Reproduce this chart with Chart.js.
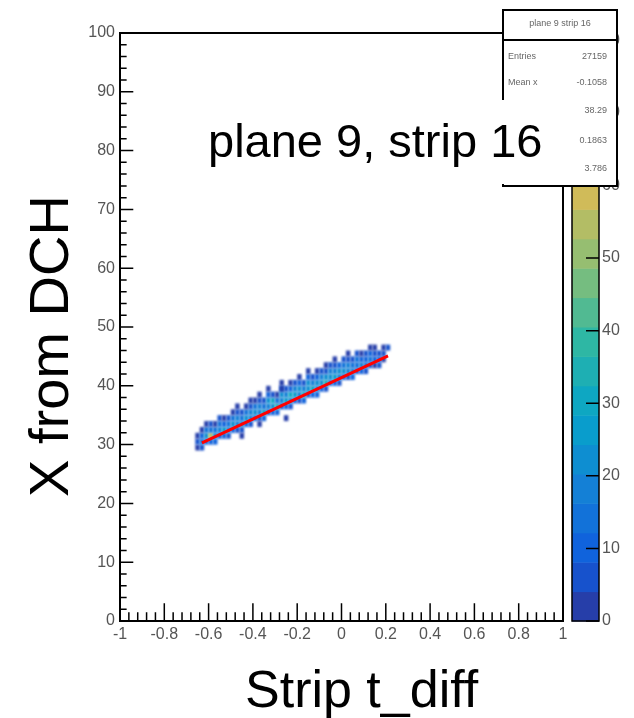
<!DOCTYPE html>
<html>
<head>
<meta charset="utf-8">
<script src="https://cdn.jsdelivr.net/npm/chart.js@4/dist/chart.umd.min.js"></script>
<style>
  html, body { margin: 0; padding: 0; background: #fff; }
  canvas { display: block; }
</style>
</head>
<body>
<canvas id="hist2d" width="634" height="718"></canvas>
<script>
// 2D histogram: X from DCH vs strip t_diff, plane 9 strip 16
const binW = 0.02;   // t_diff bin width
const binH = 1;      // X bin height

// column centres (t_diff)
const binX = [-0.65, -0.63, -0.61, -0.59, -0.57, -0.55, -0.53, -0.51, -0.49, -0.47,
  -0.45, -0.43, -0.41, -0.39, -0.37, -0.35, -0.33, -0.31, -0.29, -0.27,
  -0.25, -0.23, -0.21, -0.19, -0.17, -0.15, -0.13, -0.11, -0.09, -0.07,
  -0.05, -0.03, -0.01, 0.01, 0.03, 0.05, 0.07, 0.09, 0.11, 0.13,
  0.15, 0.17, 0.19];
// lower X edge of the first filled bin in each column
const binYStart = [29, 29, 30, 30, 30, 31, 31, 31, 32, 32,
  32, 33, 33, 34, 34, 34, 35, 35, 35, 36,
  36, 36, 37, 37, 37, 38, 38, 38, 39, 39,
  40, 40, 40, 41, 41, 41, 42, 42, 42, 43,
  43, 43, 44];
// entries per bin, going up in X
const binCounts = [
  [3, 8, 3], [8, 16, 10, 2], [11, 21, 13, 3], [9, 56, 16, 5], [10, 23, 15, 4],
  [7, 19, 16, 5], [11, 25, 12, 3], [5, 18, 15, 6], [9, 21, 14, 4], [8, 17, 19, 7, 2],
  [5, 20, 14, 5], [9, 23, 16, 4], [6, 18, 19, 8, 2], [9, 22, 14, 4], [7, 19, 18, 8, 3],
  [10, 29, 16, 5], [5, 18, 21, 9, 2], [9, 21, 30, 7], [11, 33, 15, 4], [8, 19, 22, 9, 3],
  [10, 25, 18, 6], [6, 17, 29, 11, 2], [10, 26, 19, 5], [7, 20, 22, 10, 3], [10, 31, 18, 6],
  [8, 22, 24, 9, 2], [11, 30, 18, 5], [9, 20, 23, 10, 3], [10, 24, 20, 7], [8, 33, 21, 8, 2],
  [9, 22, 19, 8], [10, 26, 17, 8, 3], [7, 19, 21, 9], [10, 23, 15, 6], [8, 18, 17, 8, 2],
  [9, 20, 13, 5], [7, 16, 16, 7], [9, 17, 12, 4], [5, 13, 12, 6], [8, 15, 9, 3],
  [4, 11, 8, 3], [5, 9, 6], [3, 5, 2]
];
// isolated bins away from the band
const strayX = [-0.45, -0.37, -0.25, -0.27, 0.21];
const strayY = [31.5, 33.5, 34.5, 39.5, 46.5];
const strayN = [3, 2, 2, 3, 5];

// linear fit
const fitX = [-0.63, 0.21];
const fitY = [30.3, 45.1];

// axes
const xTicks = [-1, -0.8, -0.6, -0.4, -0.2, 0, 0.2, 0.4, 0.6, 0.8, 1];
const xTickLabels = ['-1', '-0.8', '-0.6', '-0.4', '-0.2', '0', '0.2', '0.4', '0.6', '0.8', '1'];
const yTicks = [0, 10, 20, 30, 40, 50, 60, 70, 80, 90, 100];
const zTicks = [0, 10, 20, 30, 40, 50, 60, 70, 80];
const zMax = 81;
const nLevels = 20;

// stats box
const statsTitle = 'plane 9 strip 16';
const statsNames = ['Entries', 'Mean x', 'Mean y', 'Std Dev x', 'Std Dev y'];
const statsValues = ['27159', '-0.1058', '38.29', '0.1863', '3.786'];

// kBird palette
const birdStops = [0, 0.125, 0.25, 0.375, 0.5, 0.625, 0.75, 0.875, 1];
const birdR = [0.2082, 0.0592, 0.0780, 0.0232, 0.1802, 0.5301, 0.8186, 0.9956, 0.9764];
const birdG = [0.1664, 0.3599, 0.5041, 0.6419, 0.7178, 0.7492, 0.7328, 0.7862, 0.9832];
const birdB = [0.5293, 0.8684, 0.8385, 0.7914, 0.6425, 0.4662, 0.3499, 0.1968, 0.0539];

function bird(f) {
  f = Math.min(1, Math.max(0, f));
  let k = 0;
  while (k < birdStops.length - 2 && f > birdStops[k + 1]) k++;
  const t = (f - birdStops[k]) / (birdStops[k + 1] - birdStops[k]);
  const c = arr => Math.round(255 * (arr[k] + t * (arr[k + 1] - arr[k])));
  return `rgb(${c(birdR)},${c(birdG)},${c(birdB)})`;
}

function levelColor(v) {
  const lev = Math.min(nLevels - 1, Math.floor(v / zMax * nLevels));
  return bird((lev + 0.99) / nLevels);
}

const FONT = '"Liberation Sans", Arial, Helvetica, sans-serif';

// histogram cells under the fit line
const cellsPlugin = {
  id: 'cells',
  beforeDatasetsDraw(chart) {
    const { ctx, chartArea: a, scales: { x, y } } = chart;
    const cell = (cx, yl, v) => {
      if (v <= 0) return;
      const x0 = x.getPixelForValue(cx - binW / 2), x1 = x.getPixelForValue(cx + binW / 2);
      const y0 = y.getPixelForValue(yl + binH), y1 = y.getPixelForValue(yl);
      ctx.fillStyle = levelColor(v);
      ctx.fillRect(x0, y0, x1 - x0, y1 - y0);
    };
    ctx.save();
    ctx.beginPath();
    ctx.rect(a.left, a.top, a.right - a.left, a.bottom - a.top);
    ctx.clip();
    ctx.filter = 'blur(1.2px)';
    binX.forEach((cx, i) => {
      binCounts[i].forEach((v, j) => cell(cx, binYStart[i] + j * binH, v));
    });
    strayX.forEach((cx, i) => cell(cx, strayY[i] - binH / 2, strayN[i]));
    ctx.restore();
  }
};

// frame, ticks, labels, colour bar, stats box, text label
const decorPlugin = {
  id: 'decor',
  afterDraw(chart) {
    const { ctx, chartArea: a, scales: { x, y, z } } = chart;
    ctx.save();

    // frame
    ctx.strokeStyle = '#000';
    ctx.lineWidth = 2;
    ctx.strokeRect(a.left, a.top, a.right - a.left, a.bottom - a.top);

    // x ticks (inside)
    const xMajLen = 0.03 * (a.bottom - a.top);
    ctx.lineWidth = 1.5;
    ctx.beginPath();
    for (let k = 0; k <= 50; k++) {
      const v = -1 + k * 0.04;
      const px = x.getPixelForValue(v);
      const len = k % 5 === 0 ? xMajLen : xMajLen / 2;
      ctx.moveTo(px, a.bottom);
      ctx.lineTo(px, a.bottom - len);
    }
    // y ticks (inside)
    const yMajLen = 0.03 * (a.right - a.left);
    for (let k = 0; k <= 50; k++) {
      const v = k * 2;
      const py = y.getPixelForValue(v);
      const len = k % 5 === 0 ? yMajLen : yMajLen / 2;
      ctx.moveTo(a.left, py);
      ctx.lineTo(a.left + len, py);
    }
    ctx.stroke();

    // tick labels
    ctx.fillStyle = '#555';
    ctx.font = `16px ${FONT}`;
    ctx.textAlign = 'center';
    ctx.textBaseline = 'top';
    xTicks.forEach((v, i) => ctx.fillText(xTickLabels[i], x.getPixelForValue(v), a.bottom + 6));
    ctx.textAlign = 'right';
    ctx.textBaseline = 'middle';
    yTicks.forEach(v => ctx.fillText(String(v), a.left - 5, y.getPixelForValue(v)));

    // axis titles
    ctx.fillStyle = '#000';
    ctx.font = `52px ${FONT}`;
    ctx.textAlign = 'left';
    ctx.textBaseline = 'alphabetic';
    ctx.fillText('Strip t_diff', 245, 707);
    ctx.save();
    ctx.font = `56px ${FONT}`;
    ctx.translate(68, 346);
    ctx.rotate(-Math.PI / 2);
    ctx.textAlign = 'center';
    ctx.fillText('X from DCH', 0, 0);
    ctx.restore();

    // colour bar
    const barL = a.right + 9, barR = a.right + 36;
    for (let i = 0; i < nLevels; i++) {
      const lo = z.getPixelForValue(i * zMax / nLevels);
      const hi = z.getPixelForValue((i + 1) * zMax / nLevels);
      ctx.fillStyle = bird((i + 0.99) / nLevels);
      ctx.fillRect(barL, hi, barR - barL, lo - hi + 0.5);
    }
    ctx.strokeStyle = '#000';
    ctx.lineWidth = 1.5;
    ctx.strokeRect(barL, z.getPixelForValue(zMax), barR - barL, z.getPixelForValue(0) - z.getPixelForValue(zMax));
    ctx.beginPath();
    zTicks.forEach(v => {
      const py = z.getPixelForValue(v);
      ctx.moveTo(barR, py);
      ctx.lineTo(barR - 13, py);
    });
    ctx.stroke();
    ctx.fillStyle = '#555';
    ctx.font = `16px ${FONT}`;
    ctx.textAlign = 'left';
    ctx.textBaseline = 'middle';
    zTicks.forEach(v => ctx.fillText(String(v), barR + 3, z.getPixelForValue(v)));

    // stats box
    const sx = 503, sy = 10, sw = 114, sh = 176;
    ctx.fillStyle = '#fff';
    ctx.fillRect(sx, sy, sw, sh);
    ctx.strokeStyle = '#000';
    ctx.lineWidth = 2;
    ctx.strokeRect(sx, sy, sw, sh);
    ctx.beginPath();
    ctx.moveTo(sx, sy + 30);
    ctx.lineTo(sx + sw, sy + 30);
    ctx.stroke();
    ctx.fillStyle = '#666';
    ctx.font = `9px ${FONT}`;
    ctx.textAlign = 'center';
    ctx.fillText(statsTitle, sx + sw / 2, sy + 14);
    const rowY = [57, 83, 111, 141, 169];
    statsNames.forEach((name, i) => {
      ctx.textAlign = 'left';
      ctx.fillText(name, sx + 5, rowY[i]);
      ctx.textAlign = 'right';
      ctx.fillText(statsValues[i], sx + sw - 10, rowY[i]);
    });

    // plot label on white box
    ctx.fillStyle = '#fff';
    ctx.fillRect(196, 100, 360, 84);
    ctx.fillStyle = '#000';
    ctx.font = `47px ${FONT}`;
    ctx.textAlign = 'left';
    ctx.textBaseline = 'alphabetic';
    ctx.fillText('plane 9, strip 16', 208, 157);

    ctx.restore();
  }
};

new Chart(document.getElementById('hist2d'), {
  type: 'scatter',
  data: {
    datasets: [{
      type: 'line',
      label: 'fit',
      data: fitX.map((v, i) => ({ x: v, y: fitY[i] })),
      borderColor: '#ff0000',
      borderWidth: 3,
      pointRadius: 0,
      fill: false
    }]
  },
  options: {
    responsive: false,
    animation: false,
    layout: { padding: { left: 120, right: 71, top: 33, bottom: 97 } },
    plugins: { legend: { display: false }, tooltip: { enabled: false } },
    scales: {
      x: { type: 'linear', min: -1, max: 1, display: false },
      y: { type: 'linear', min: 0, max: 100, display: false },
      z: { type: 'linear', position: 'right', min: 0, max: zMax, display: false }
    }
  },
  plugins: [cellsPlugin, decorPlugin]
});
</script>
</body>
</html>
